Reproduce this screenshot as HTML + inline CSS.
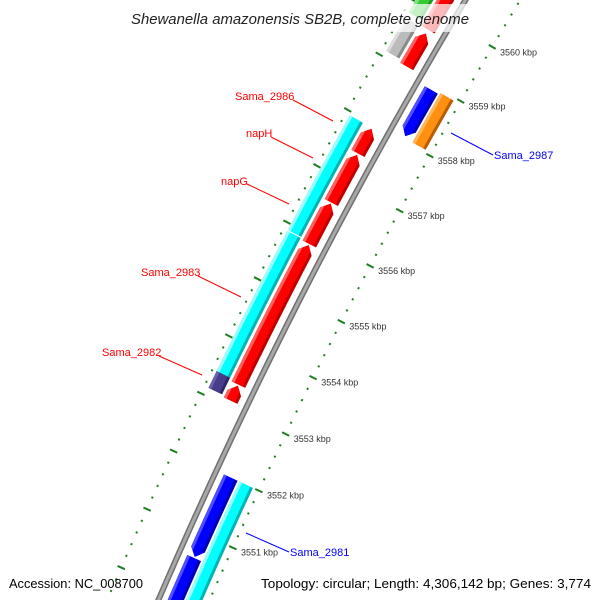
<!DOCTYPE html>
<html><head><meta charset="utf-8"><style>
html,body{margin:0;padding:0;background:#fff;width:600px;height:600px;overflow:hidden}
svg{display:block;overflow:hidden}
text{font-family:"Liberation Sans","DejaVu Sans",sans-serif}
</style></head><body>
<svg id="map" width="600" height="600" viewBox="0 0 600 600" xmlns="http://www.w3.org/2000/svg">
<defs id="defs"></defs>
<g id="ticks"></g>
<g id="backbone"></g>
<g id="features"></g>
<g id="ticklabels"></g>
<rect x="126" y="4" width="350" height="28" fill="#fff" fill-opacity="0.72"/>
<text x="300" y="24" text-anchor="middle" font-size="15" font-style="italic" fill="#222" textLength="338" lengthAdjust="spacingAndGlyphs">Shewanella amazonensis SB2B, complete genome</text>
<g font-size="11">
<line x1="293" y1="100" x2="333" y2="121" stroke="#f00"/><text x="235" y="100" fill="#f00">Sama_2986</text>
<line x1="271" y1="137" x2="313" y2="158" stroke="#f00"/><text x="246" y="137" fill="#f00">napH</text>
<line x1="247" y1="184" x2="289" y2="204" stroke="#f00"/><text x="221" y="185" fill="#f00">napG</text>
<line x1="198" y1="276" x2="241" y2="297" stroke="#f00"/><text x="141" y="276" fill="#f00">Sama_2983</text>
<line x1="159" y1="356" x2="202" y2="375" stroke="#f00"/><text x="102" y="356" fill="#f00">Sama_2982</text>
<line x1="451" y1="133" x2="493" y2="155" stroke="#00f"/><text x="494" y="159" fill="#00f">Sama_2987</text>
<line x1="246" y1="533" x2="289" y2="552" stroke="#00f"/><text x="290" y="556" fill="#00f">Sama_2981</text>
</g>
<text x="9" y="588" font-size="13" fill="#000" textLength="134" lengthAdjust="spacingAndGlyphs">Accession: NC_008700</text>
<text x="261" y="588" font-size="13" fill="#000" textLength="330" lengthAdjust="spacingAndGlyphs">Topology: circular; Length: 4,306,142 bp; Genes: 3,774</text>
</svg>
<script>
// ---- data ----
const tickKbp = [3548,3549,3550,3551,3552,3553,3554,3555,3556,3557,3558,3559,3560,3561,3562];
const labelKbp = [3551,3552,3553,3554,3555,3556,3557,3558,3559,3560];
const featStart  = [3553.42,3555.90,3553.13,3557.48,3556.60,3555.86,3553.38,3553.10,3559.05,3559.72,3559.10,3559.80,3558.08,3558.05,3550.62,3548.5,3548.5];
const featEnd    = [3555.88,3557.94,3553.42,3557.92,3557.45,3556.58,3555.84,3553.36,3559.65,3561.5,3559.70,3561.5,3558.92,3558.95,3552.00,3550.60,3552.00];
const featRing   = [2,2,2,1,1,1,1,1,1,1,2,2,-1,-2,-1,-1,-2];
const featStrand = [0,0,0,1,1,1,1,1,1,1,0,0,-1,0,-1,-1,0];
const featColor  = ["cyan","cyan","purple","red","red","red","red","red","red","red","gray","green","blue","orange","blue","blue","cyan"];
const featName   = ["sama-2983","sama-2986","sama-2982","naph-small","naph","napg","sama-2983-red","red-small","red-top","red-top-2","gray-top","green-top","sama-2987-blue","sama-2987","blue-lower","blue-bottom","sama-2981"];

// ---- geometry ----
const CX=4900, CY=2648, R0=5165, PHI0=204.93, DEG_PER_KBP=0.702;
const ringOff={1:17,2:35,"-1":-16,"-2":-33};
const FW=15;
const palette={
 red:["#c00000","#ff0000","#ff6060"],cyan:["#00b4b4","#00ffff","#9affff"],
 blue:["#0000b0","#0000ff","#5050ff"],orange:["#b85c00","#ff9010","#ffb860"],
 purple:["#2e2766","#483d8b","#6a60b0"],gray:["#8a8a8a","#bbbbbb","#dcdcdc"],
 green:["#1f991f","#33cc33","#80e080"]};
function pt(k,off){const a=(PHI0+(k-3552)*DEG_PER_KBP)*Math.PI/180;const r=R0+off;return [CX+r*Math.cos(a),CY+r*Math.sin(a)];}
function arcPts(k1,k2,off,n){const p=[];for(let i=0;i<=n;i++)p.push(pt(k1+(k2-k1)*i/n,off));return p;}
function fmt(p){return p.map(q=>q[0].toFixed(2)+","+q[1].toFixed(2)).join(" ");}
const NS="http://www.w3.org/2000/svg";
function mk(tag,attrs,parent){const e=document.createElementNS(NS,tag);for(const k in attrs)e.setAttribute(k,attrs[k]);parent.appendChild(e);return e;}

// ticks
const gT=document.getElementById('ticks');
[47,-47].forEach(off=>{
 tickKbp.forEach(k=>{
  for(let s=0;s<5;s++){
   const kk=k+s*0.2; const major=s===0;
   const L=major?4:1;
   const a=pt(kk,off-L), b=pt(kk,off+L);
   const ln=mk('line',{x1:a[0],y1:a[1],x2:b[0],y2:b[1],stroke:"#1f7f1f","stroke-width":2},gT);
   
   
  }
 });
});
// tick labels
const gL=document.getElementById('ticklabels');
labelKbp.forEach(k=>{
 const p=pt(k,-56);
 const t=mk('text',{x:p[0],y:p[1]+4,"font-size":9,fill:"#333"},gL);
 t.textContent=k+" kbp";
 
 
});
// backbone
const gB=document.getElementById('backbone');
const bb=fmt(arcPts(3548,3562,0,40));
let e1=mk('polyline',{points:bb,fill:"none",stroke:"#707070","stroke-width":6},gB);


let e2=mk('polyline',{points:bb,fill:"none",stroke:"#a8a8a8","stroke-width":3},gB);


// features
const defs=document.getElementById('defs');
const gF=document.getElementById('features');
const AH=0.13;
function shape(k1,k2,off,dir){
 const lo=off-FW/2, hi=off+FW/2; let p=[];
 if(dir===1){const b=k2-AH;p=p.concat(arcPts(k1,b,lo,8));p.push(pt(k2,off));p=p.concat(arcPts(b,k1,hi,8));}
 else if(dir===-1){const b=k1+AH;p.push(pt(k1,off));p=p.concat(arcPts(b,k2,lo,8));p=p.concat(arcPts(k2,b,hi,8));}
 else{p=p.concat(arcPts(k1,k2,lo,8));p=p.concat(arcPts(k2,k1,hi,8));}
 return fmt(p);
}
function band(k1,k2,lo,hi){return fmt(arcPts(k1-0.3,k2+0.3,lo,8).concat(arcPts(k2+0.3,k1-0.3,hi,8)));}
featStart.forEach((s,i)=>{
 const e=featEnd[i], off=ringOff[featRing[i]], dir=featStrand[i], c=palette[featColor[i]];
 const cp=mk('clipPath',{id:'c'+i},defs);
 mk('polygon',{points:shape(s,e,off,dir)},cp);
 const g=mk('g',{"clip-path":"url(#c"+i+")"},gF);
 
 
 mk('polygon',{points:band(s,e,off-FW/2-1,off+FW/2+1),fill:c[0]},g);
 mk('polygon',{points:band(s,e,off-FW/2+3,off+FW/2+1),fill:c[1]},g);
 mk('polygon',{points:band(s,e,off+FW/2-3,off+FW/2+1),fill:c[2]},g);
});
</script>
</body></html>
